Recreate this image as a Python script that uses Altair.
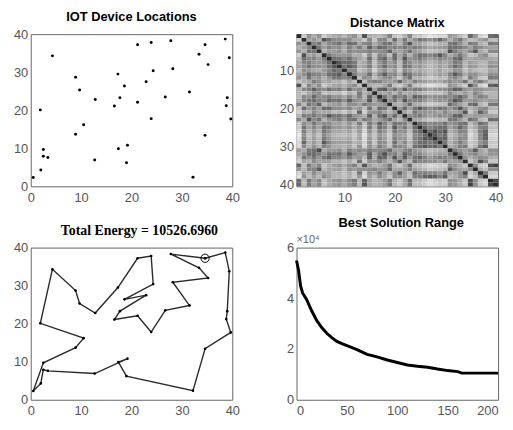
import altair as alt
import pandas as pd
import numpy as np

# City coordinates (IOT device locations)
city_x = [0.5, 1.9, 2.0, 2.5, 2.5, 3.4, 4.3, 8.9, 9.7, 8.9, 10.5, 12.8, 12.7,
          16.6, 17.3, 17.7, 17.4, 18.6, 19.2, 19.0, 21.2, 21.2, 22.9, 23.9,
          24.3, 23.9, 26.7, 27.8, 28.2, 31.5, 32.2, 33.4, 34.6, 35.2, 34.6,
          38.6, 39.0, 38.8, 39.4, 39.7]
city_y = [2.3, 20.1, 4.3, 9.7, 7.9, 7.6, 34.3, 28.7, 25.3, 13.7, 16.2, 22.8, 6.9,
          21.1, 29.5, 23.3, 9.9, 26.4, 10.8, 6.2, 37.2, 22.1, 27.5, 37.8,
          30.4, 17.8, 23.5, 38.3, 30.9, 24.8, 2.4, 34.7, 37.2, 32.0, 13.4,
          38.7, 23.3, 21.2, 33.8, 17.7]

# Order of cities in the distance matrix rows/cols (1-based city ids)
matrix_order = [1, 21, 11, 26, 17, 24, 15, 8, 9, 7, 12, 2, 35, 3, 22, 31, 27, 16,
                13, 25, 40, 18, 10, 30, 29, 32, 36, 33, 28, 34, 19, 14, 23, 38, 6,
                20, 37, 39, 4, 5]

# Best tour (1-based city ids), starting city first
tour = [33, 28, 32, 34, 29, 30, 27, 26, 22, 14, 16, 23, 18, 25, 24, 21, 15, 12,
        9, 8, 7, 2, 11, 10, 4, 1, 3, 5, 6, 13, 19, 17, 20, 31, 35, 40, 38, 37,
        39, 36]

# Best solution history (x10^4)
iter_x = [0, 2, 4, 6, 10, 15, 20, 25, 30, 35, 40, 45, 50, 60, 70, 80, 90, 100,
          110, 120, 130, 140, 150, 160, 164, 200]
best_y = [5.49, 5.11, 4.50, 4.21, 3.96, 3.51, 3.13, 2.85, 2.62, 2.45, 2.30, 2.21,
          2.13, 1.98, 1.79, 1.69, 1.57, 1.47, 1.37, 1.32, 1.28, 1.21, 1.15, 1.11,
          1.05, 1.05]

W, H = 204, 154
FONT = "Liberation Sans"
TICKS40 = [0, 10, 20, 30, 40]

cities = pd.DataFrame({"x": city_x, "y": city_y})

# Panel 1: locations
p1 = alt.Chart(cities, title="IOT Device Locations").mark_circle(
    size=9, color="black", opacity=1).encode(
    x=alt.X("x:Q", scale=alt.Scale(domain=[0, 40], nice=False),
            axis=alt.Axis(values=TICKS40, title=None)),
    y=alt.Y("y:Q", scale=alt.Scale(domain=[0, 40], nice=False),
            axis=alt.Axis(values=TICKS40, title=None)),
).properties(width=W, height=H)

# Panel 2: distance matrix
ox = np.array([city_x[i - 1] for i in matrix_order])
oy = np.array([city_y[i - 1] for i in matrix_order])
rows = []
for r in range(40):
    for c in range(40):
        d = float(np.hypot(ox[r] - ox[c], oy[r] - oy[c]))
        rows.append({"r0": r + 0.5, "r1": r + 1.5, "c0": c + 0.5, "c1": c + 1.5, "d": d})
dm = pd.DataFrame(rows)
p2 = alt.Chart(dm, title="Distance Matrix").mark_rect(strokeWidth=0).encode(
    x=alt.X("c0:Q", scale=alt.Scale(domain=[0.5, 40.5], nice=False, zero=False),
            axis=alt.Axis(values=[10, 20, 30, 40], title=None)),
    x2="c1:Q",
    y=alt.Y("r0:Q", scale=alt.Scale(domain=[0.5, 40.5], nice=False, zero=False, reverse=True),
            axis=alt.Axis(values=[10, 20, 30, 40], title=None)),
    y2="r1:Q",
    color=alt.Color("d:Q", scale=alt.Scale(type="sqrt", range=["#2c2c2c", "#e6e6e6"]),
                    legend=None),
).properties(width=W, height=H)

# Panel 3: tour
tour_df = pd.DataFrame({
    "x": [city_x[i - 1] for i in tour + [tour[0]]],
    "y": [city_y[i - 1] for i in tour + [tour[0]]],
    "o": list(range(len(tour) + 1)),
})
start_df = pd.DataFrame({"x": [city_x[tour[0] - 1]], "y": [city_y[tour[0] - 1]]})
xs = alt.Scale(domain=[0, 40], nice=False)
ys = alt.Scale(domain=[0, 40], nice=False)
xenc = alt.X("x:Q", scale=xs, axis=alt.Axis(values=TICKS40, title=None))
yenc = alt.Y("y:Q", scale=ys, axis=alt.Axis(values=TICKS40, title=None))
base3 = alt.Chart(tour_df).encode(x=xenc, y=yenc, order="o:Q")
line3 = base3.mark_line(color="#2b2b2b", strokeWidth=1.4)
dots3 = base3.mark_circle(size=7, color="black", opacity=1)
start3 = alt.Chart(start_df).mark_point(shape="circle", size=70, filled=False,
                                        color="black", strokeWidth=1, opacity=1).encode(
    x=xenc, y=yenc)
p3 = alt.layer(line3, dots3, start3).properties(
    width=W, height=H,
    title=alt.TitleParams("Total Energy = 10526.6960", font="Liberation Serif",
                          fontSize=14, fontWeight="bold", dx=8),
)

# Panel 4: best solution history
hist = pd.DataFrame({"x": iter_x, "y": best_y})
line4 = alt.Chart(hist).mark_line(color="black", strokeWidth=3).encode(
    x=alt.X("x:Q", scale=alt.Scale(domain=[0, 200], nice=False),
            axis=alt.Axis(values=[0, 50, 100, 150, 200], title=None, labelFlush=True)),
    y=alt.Y("y:Q", scale=alt.Scale(domain=[0, 6], nice=False),
            axis=alt.Axis(values=[0, 2, 4, 6], title=None)),
)
exp4 = alt.Chart(pd.DataFrame({"t": ["×10⁴"]})).mark_text(
    align="left", baseline="bottom", fontSize=11, color="#666", font=FONT).encode(
    x=alt.value(0), y=alt.value(-3), text="t:N")
p4 = alt.layer(line4, exp4).properties(width=W, height=H,
                                       title=alt.TitleParams("Best Solution Range", dx=4))

chart = alt.concat(p1, p2, p3, p4, columns=2, spacing={"row": 62, "column": 65},
                   bounds="flush").configure(
    font=FONT, padding={"left": 5, "top": 0, "right": 0, "bottom": 0}
).configure_view(
    stroke="#666", strokeWidth=1
).configure_axis(
    labelFont=FONT, labelFontSize=13, labelColor="#555", ticks=False, domain=False,
    grid=False, labelPadding=3, labelOverlap=False, labelFlush=False
).configure_axisX(
    labelPadding=5
).configure_title(
    font=FONT, fontSize=13, fontWeight="bold", color="black", offset=4
)

chart.save("out.html", embed_options={"renderer": "svg", "actions": False})
